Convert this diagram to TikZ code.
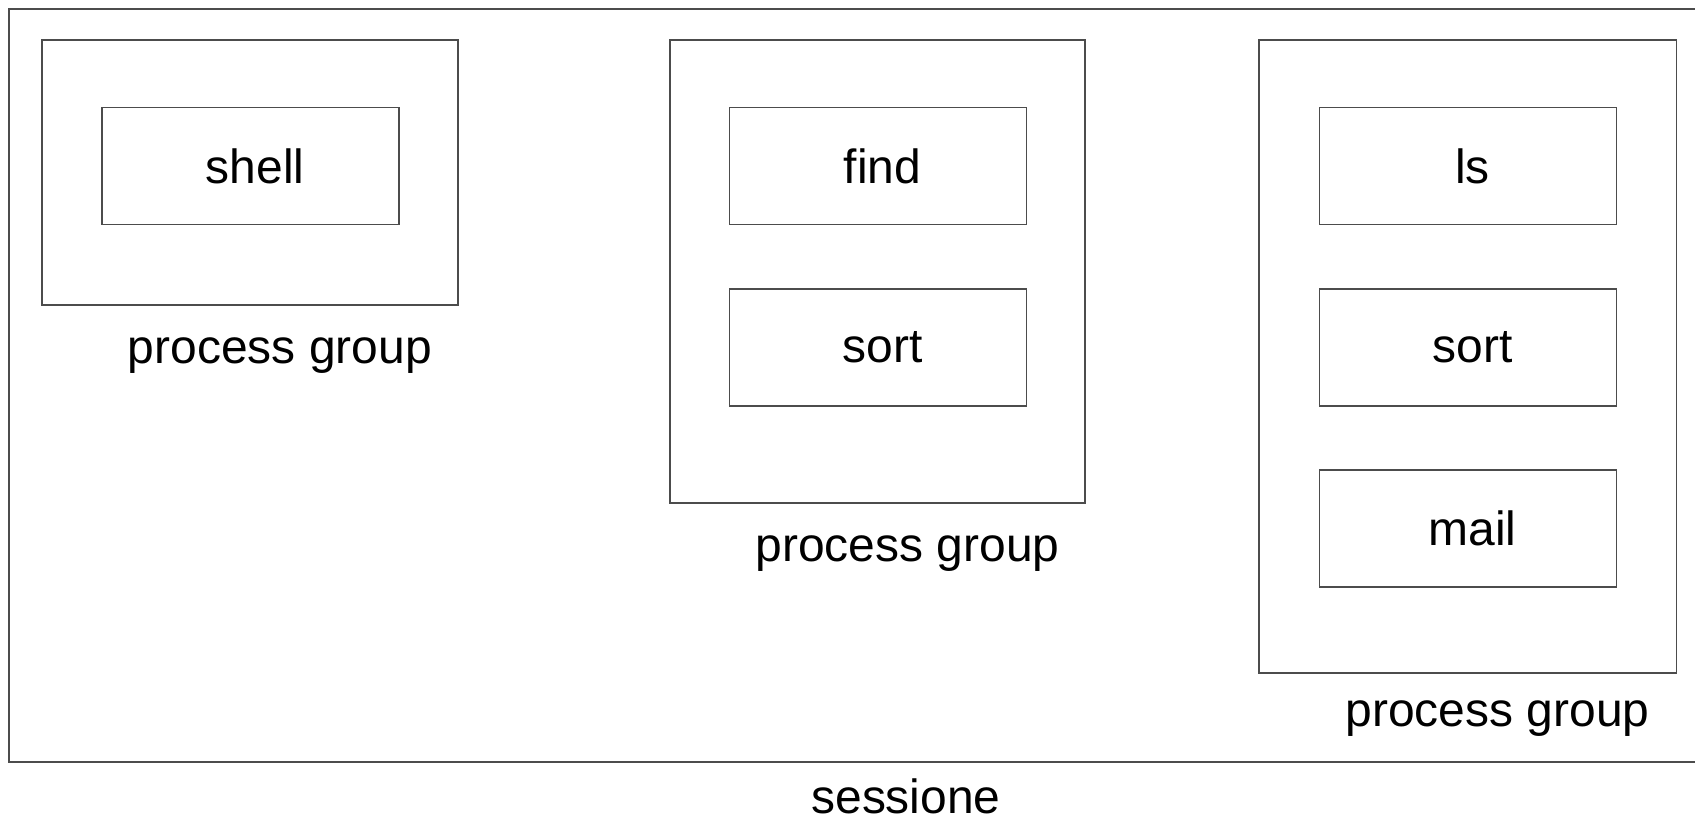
\documentclass[tikz,border=0pt]{standalone}
\usepackage{fontspec}
\setmainfont{Liberation Sans}
\usepackage{tikz}
\usetikzlibrary{positioning}
\tikzset{
  proc/.style={draw=black!70, line width=0.6pt, minimum width=5.94cm, minimum height=2.34cm, inner sep=0pt, execute at begin node=\hspace*{0.18cm}},
  pgroup/.style={draw=black!70, line width=0.6pt, inner sep=0pt},
  pglabel/.style={inner sep=0pt}
}

\begin{document}
\begin{tikzpicture}[font=\fontsize{27.3}{32}\selectfont]
                    \useasboundingbox (0,0) rectangle (33.9,16.32);
                    \clip (0,0) rectangle (33.9,16.32);
                    \node[pgroup, minimum width=35.88cm, minimum height=15.06cm] (sess) at (18.12,8.61) {};
                    \node[pgroup, minimum width=8.32cm, minimum height=5.3cm] (g1) at (5.0,12.87) {};
                    \node[pgroup, minimum width=8.3cm, minimum height=9.26cm] (g2) at (17.55,10.89) {};
                    \node[pgroup, minimum width=8.34cm, minimum height=12.66cm] (g3) at (29.35,9.19) {};
                    \node[proc] (shell) at (5.01,13.0) {shell};
                    \node[proc] (find) at (17.56,13.0) {find};
                    \node[proc] (sort1) at (17.56,9.37) {sort};
                    \node[proc] (ls) at (29.36,13.0) {ls};
                    \node[proc] (sort2) at (29.36,9.37) {sort};
                    \node[proc] (mail) at (29.36,5.75) {mail};
                    \node[pglabel, below=0.64cm of g1, xshift=0.6cm] (l1) {process group};
                    \node[pglabel, below=0.64cm of g2, xshift=0.6cm] (l2) {process group};
                    \node[pglabel, below=0.54cm of g3, xshift=0.6cm] (l3) {process group};
                    \node[pglabel, below=0.32cm of sess] (ls4) {sessione};
                    \end{tikzpicture}
\end{document}
